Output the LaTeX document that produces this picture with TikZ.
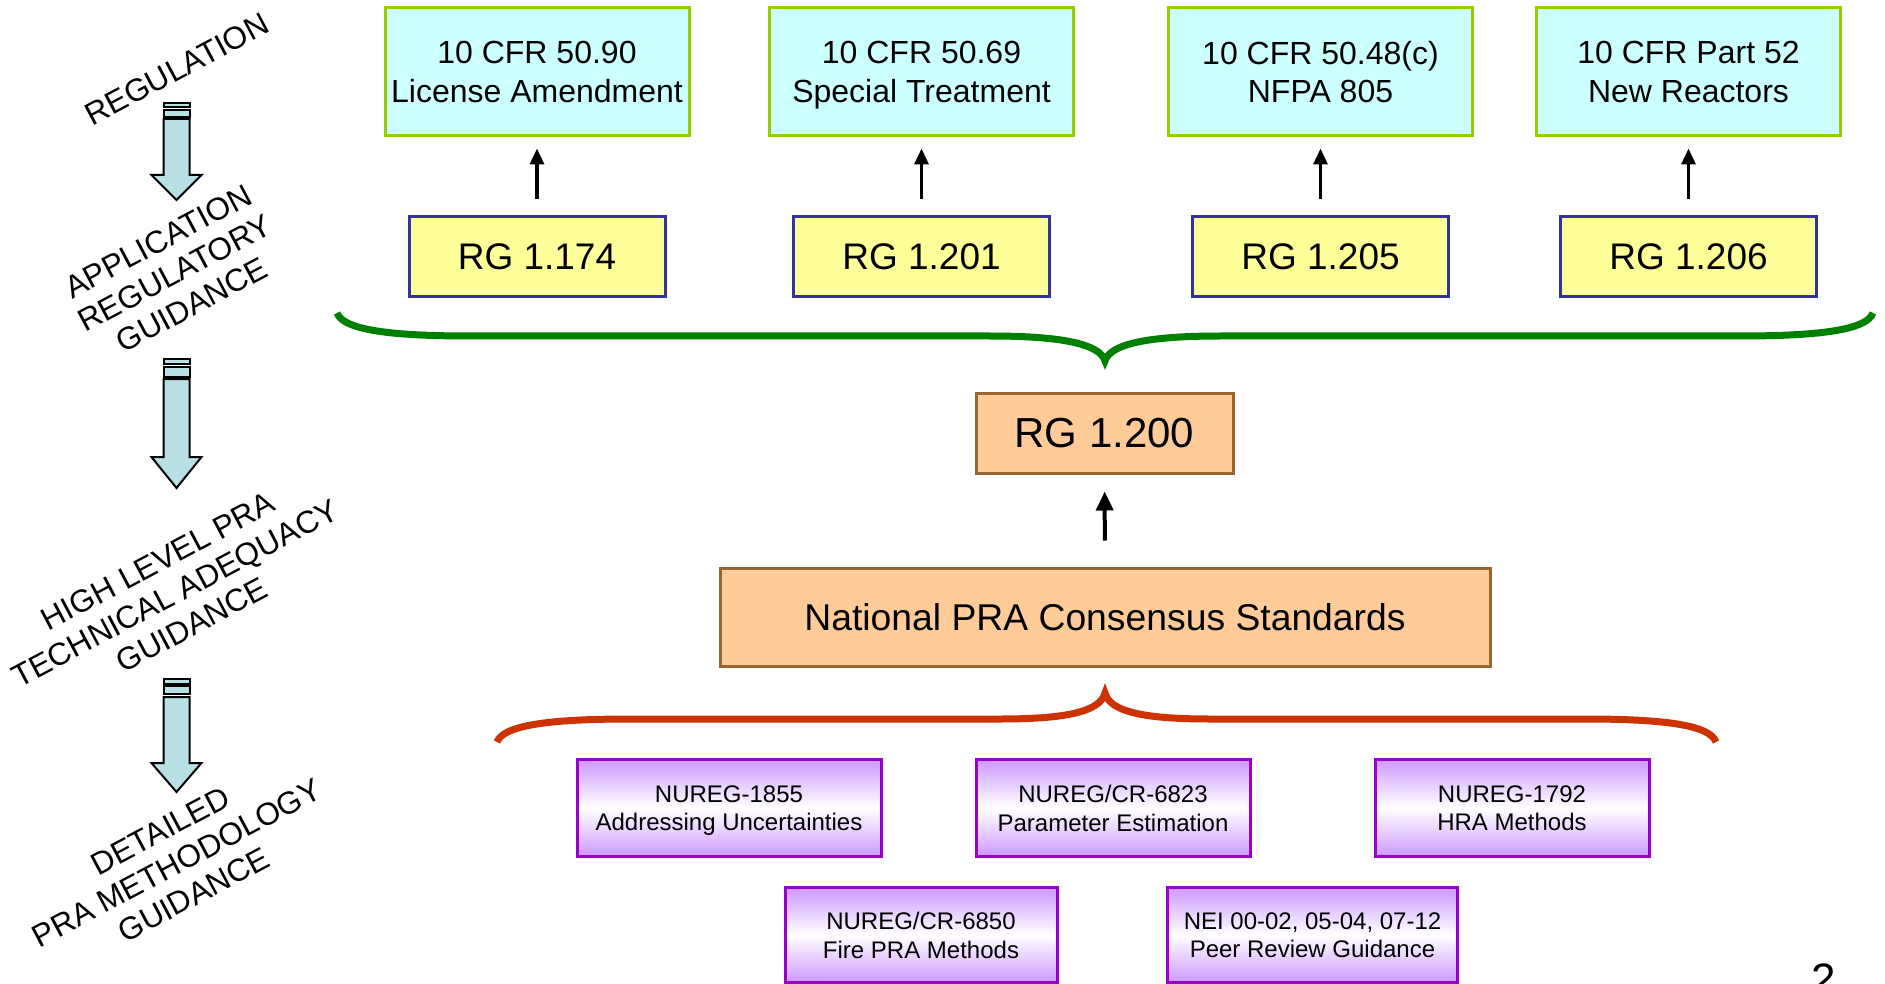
\documentclass[tikz,border=0pt]{standalone}
\usepackage{fontspec}
\setmainfont{Liberation Sans}
\usetikzlibrary{arrows.meta}
\definecolor{cyanfill}{HTML}{CCFFFF}
\definecolor{cyanline}{HTML}{99CC00}
\definecolor{yelfill}{HTML}{FFFF99}
\definecolor{yelline}{HTML}{333399}
\definecolor{orfill}{HTML}{FFCC99}
\definecolor{orline}{HTML}{996633}
\definecolor{purfill}{HTML}{CC99FF}
\definecolor{purline}{HTML}{9900CC}
\definecolor{arrfill}{HTML}{B9E0E4}
\definecolor{brgreen}{HTML}{008000}
\definecolor{brred}{HTML}{CC3300}
\newcommand\nd[1]{\raisebox{0pt}[\height][0pt]{#1}}
\newcommand\ldarrow[8]{%
  \draw[arrstyle] (#1-13,#2) rectangle (#1+13,#3);
  \draw[arrstyle] (#1-13,#4) rectangle (#1+13,#5);
  \draw[arrstyle] (#1-13,#6) -- (#1-13,#7) -- (#1-25,#7) -- (#1,#8) -- (#1+25,#7) -- (#1+13,#7) -- (#1+13,#6) -- cycle;}
\begin{document}
\begin{tikzpicture}[x=1pt,y=-1pt,
  box/.style={draw, line width=3pt, inner sep=0pt, align=center},
  cfr/.style={box, fill=cyanfill, draw=cyanline, minimum width=304pt, minimum height=128pt, font=\fontsize{32}{38.8}\selectfont},
  rg/.style={box, fill=yelfill, draw=yelline, minimum width=256pt, minimum height=80pt, font=\fontsize{37}{44}\selectfont},
  orbox/.style={box, fill=orfill, draw=orline},
  purbox/.style={box, draw=purline, top color=purfill, bottom color=purfill, middle color=white, minimum height=97pt, font=\fontsize{24}{28.6}\selectfont},
  lbl/.style={rotate=28, align=center, font=\fontsize{31.5}{36}\selectfont},
  conn/.style={-{Triangle[length=16pt,width=14pt]}, line width=3.5pt},
  arrstyle/.style={fill=arrfill, draw=black, line width=2pt, line join=miter},
  brace/.style={line width=7pt}
]
\useasboundingbox (0,0) rectangle (1885,984);
\clip (0,0) rectangle (1885,984);
\fill[white] (0,0) rectangle (1885,984);

% left labels
\node[lbl] (l1) at (177,69) {REGULATION};
\node[lbl] (l2) at (175,273) {APPLICATION\\REGULATORY\\GUIDANCE};
\node[lbl] (l3) at (175,593) {HIGH LEVEL PRA\\TECHNICAL ADEQUACY\\GUIDANCE};
\node[lbl] (l4) at (177,863) {DETAILED\\PRA METHODOLOGY\\GUIDANCE};

% left block arrows
\ldarrow{176.5}{103}{107}{110}{117}{119}{175}{200}
\ldarrow{176.5}{359}{364}{367}{377}{379}{457}{488}
\ldarrow{176.5}{679}{684}{686}{694}{697}{763}{792}

% top regulation boxes
\node[cfr] (c1) at (537,72) {10 CFR 50.90\\\nd{License Amendment}};
\node[cfr] (c2) at (921.5,72) {10 CFR 50.69\\\nd{Special Treatment}};
\node[cfr] (c3) at (1320.5,72) {10 CFR 50.48(c)\\\nd{NFPA 805}};
\node[cfr] (c4) at (1688.5,72) {10 CFR Part 52\\\nd{New Reactors}};

% RG boxes
\node[rg] (r1) at (537,257) {RG 1.174};
\node[rg] (r2) at (921.5,257) {RG 1.201};
\node[rg] (r3) at (1320.5,257) {RG 1.205};
\node[rg] (r4) at (1688.5,257) {RG 1.206};

\draw[conn, shorten <=16pt, shorten >=11pt] (r1) -- (c1);
\draw[conn, shorten <=16pt, shorten >=11pt] (r2) -- (c2);
\draw[conn, shorten <=16pt, shorten >=11pt] (r3) -- (c3);
\draw[conn, shorten <=16pt, shorten >=11pt] (r4) -- (c4);

% green brace
\draw[brace, draw=brgreen] (337,313) .. controls (343,329) and (385,336) .. (470,336)
  -- (990,336) .. controls (1062,336) and (1100,344) .. (1105,361)
  .. controls (1110,344) and (1148,336) .. (1220,336)
  -- (1740,336) .. controls (1825,336) and (1867,329) .. (1873,313);

% RG 1.200 and standards
\node[orbox, minimum width=257pt, minimum height=80pt, font=\fontsize{42}{50}\selectfont] (r200) at (1104.5,433) {RG 1.200};
\node[orbox, minimum width=770pt, minimum height=98pt, font=\fontsize{37.3}{44}\selectfont] (nat) at (1105,617) {National PRA Consensus Standards};
\draw[conn, line width=4pt, -{Triangle[length=19pt,width=17pt]}, shorten <=26pt, shorten >=17pt] (nat) -- (r200);

% red brace
\draw[brace, draw=brred] (497,742) .. controls (503,726) and (545,719) .. (630,719)
  -- (1000,719) .. controls (1065,719) and (1100,712) .. (1105,693)
  .. controls (1110,712) and (1145,719) .. (1210,719)
  -- (1585,719) .. controls (1670,719) and (1710,726) .. (1716,742);

% detailed methodology boxes
\node[purbox, minimum width=304pt] (p1) at (729,808) {NUREG-1855\\\nd{Addressing Uncertainties}};
\node[purbox, minimum width=274pt] (p2) at (1113,808) {NUREG/CR-6823\\\nd{Parameter Estimation}};
\node[purbox, minimum width=274pt] (p3) at (1512,808) {NUREG-1792\\\nd{HRA Methods}};
\node[purbox, minimum width=272pt, minimum height=95pt] (p4) at (921,935) {NUREG/CR-6850\\\nd{Fire PRA Methods}};
\node[purbox, minimum width=290pt, minimum height=95pt] (p5) at (1312.5,935) {NEI 00-02, 05-04, 07-12\\\nd{Peer Review Guidance}};

% page number
\node[anchor=base, inner sep=0pt, font=\fontsize{44}{50}\selectfont] (pg) at (1824,994) {2};
\end{tikzpicture}
\end{document}
